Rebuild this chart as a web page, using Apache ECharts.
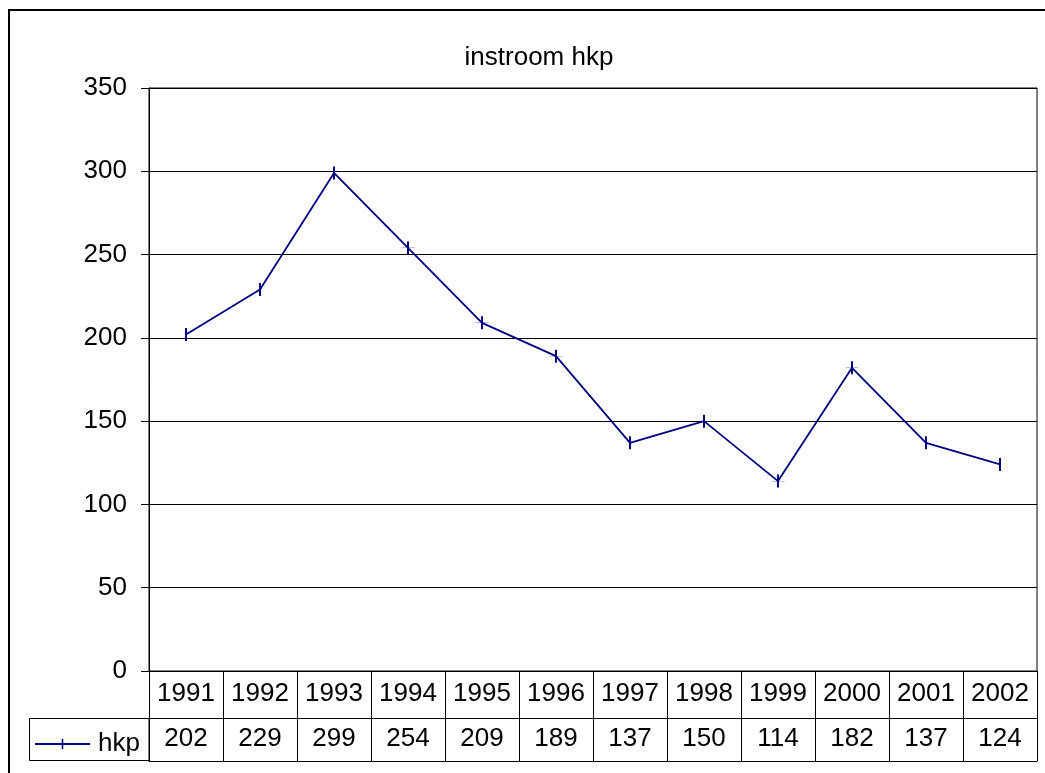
<!DOCTYPE html>
<html>
<head>
<meta charset="utf-8">
<style>
  html, body { margin: 0; padding: 0; background: #fff; }
  #chart { width: 1045px; height: 773px; }
</style>
<script src="https://cdn.jsdelivr.net/npm/echarts@6/dist/echarts.min.js"></script>
</head>
<body>
<div id="chart"></div>
<script>
// instroom hkp data
var years = ['1991', '1992', '1993', '1994', '1995', '1996', '1997', '1998', '1999', '2000', '2001', '2002'];
var hkp = [202, 229, 299, 254, 209, 189, 137, 150, 114, 182, 137, 124];
var yTicks = [0, 50, 100, 150, 200, 250, 300, 350];

var font = "'Liberation Sans', Arial, sans-serif";
// plus marker: the thin horizontal arm only keeps the box square
var plus = 'path://M0,9.9 H20 V10.1 H0 Z M8.5,0 H11.5 V20 H8.5 Z';

var myChart = echarts.init(document.getElementById('chart'), null, { renderer: 'canvas' });

var option = {
  animation: false,
  textStyle: { fontFamily: font, color: '#000' },
  title: {
    text: 'instroom hkp',
    left: 534,
    textAlign: 'center',
    top: 40,
    textStyle: { fontFamily: font, fontSize: 26, fontWeight: 'normal', color: '#000' }
  },
  legend: {
    left: 29,
    top: 726,
    itemWidth: 55,
    itemHeight: 13,
    itemGap: 0,
    data: ['hkp'],
    textStyle: { fontFamily: font, fontSize: 26, color: '#000', padding: [0, 0, 0, 3] }
  },
  grid: {
    left: 149, right: 8, top: 88, bottom: 102,
    show: true, borderColor: '#000', borderWidth: 1
  },
  xAxis: [{
    type: 'category',
    data: years,
    boundaryGap: true,
    axisLine: { lineStyle: { color: '#000', width: 1 } },
    axisTick: { show: true, length: 90, interval: 0, lineStyle: { color: '#000' } },
    axisLabel: { interval: 0, margin: 10, fontSize: 26, color: '#000', fontFamily: font },
    splitLine: { show: false }
  }, {
    type: 'category',
    data: hkp.map(String),
    position: 'bottom',
    offset: 47,
    boundaryGap: true,
    axisLine: { show: true, lineStyle: { color: '#000', width: 1 } },
    axisTick: { show: false },
    axisLabel: { interval: 0, margin: 8, fontSize: 26, color: '#000', fontFamily: font }
  }, {
    type: 'category',
    data: years,
    position: 'bottom',
    offset: 90,
    axisLine: { show: true, lineStyle: { color: '#000', width: 1 } },
    axisTick: { show: false },
    axisLabel: { show: false }
  }],
  yAxis: {
    type: 'value',
    min: yTicks[0],
    max: yTicks[yTicks.length - 1],
    interval: 50,
    axisLine: { show: true, lineStyle: { color: '#000', width: 1 } },
    axisTick: { show: true, length: 8, lineStyle: { color: '#000' } },
    axisLabel: { margin: 22, fontSize: 26, color: '#000', fontFamily: font },
    splitLine: { show: true, lineStyle: { color: '#000', width: 1 } }
  },
  graphic: [{
    type: 'rect',
    shape: { x: 9, y: 10, width: 1100, height: 1000 },
    style: { fill: 'none', stroke: '#000', lineWidth: 2 }
  }, {
    type: 'rect',
    shape: { x: 29.5, y: 718.5, width: 119.5, height: 42 },
    style: { fill: 'none', stroke: '#000', lineWidth: 1 }
  }],
  series: [{
    name: 'hkp',
    type: 'line',
    xAxisIndex: 0,
    data: hkp,
    symbol: plus,
    symbolSize: 13,
    showAllSymbol: true,
    lineStyle: { color: '#000080', width: 1.8 },
    itemStyle: { color: '#000080' }
  }]
};

myChart.setOption(option);
window.addEventListener('resize', myChart.resize);
</script>
</body>
</html>
